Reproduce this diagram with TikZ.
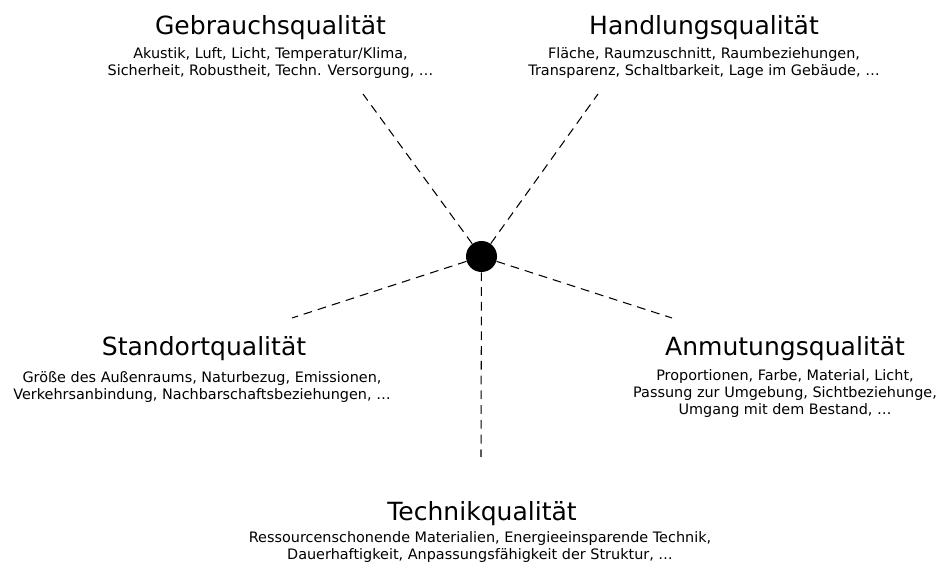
\documentclass[tikz,border=0pt]{standalone}
\usepackage{fontspec}
\setmainfont{DejaVu Sans}
\begin{document}
\begin{tikzpicture}[
  titel/.style={font=\fontsize{14.25}{17}\selectfont, inner sep=0pt, anchor=base},
  liste/.style={font=\fontsize{8.2}{9.7}\selectfont, align=center, inner sep=0pt, anchor=base},
  strahl/.style={dash pattern=on 5pt off 3.4pt, line width=0.6pt}
]
  \useasboundingbox (0,0) rectangle (18.86,11.24);
  % Mittelpunkt
  \node[circle, fill=black, minimum size=0.62cm, inner sep=0pt] (kern) at (9.63,6.11) {};
  % Enden der Strahlen
  \coordinate (gebrauchEnde) at (7.26,9.36);
  \coordinate (handlungEnde) at (11.96,9.36);
  \coordinate (standortEnde) at (5.84,4.88);
  \coordinate (anmutungEnde) at (13.44,4.88);
  \coordinate (technikEnde) at (9.62,2.10);
  \draw[strahl] (kern) -- (gebrauchEnde);
  \draw[strahl] (kern) -- (handlungEnde);
  \draw[strahl] (kern) -- (standortEnde);
  \draw[strahl] (kern) -- (anmutungEnde);
  \draw[strahl] (kern) -- (technikEnde);
  % Qualitaeten (Listen: Basislinie der letzten Zeile)
  \node[titel] (gebrauch) at (5.41,10.54) {Gebrauchsqualität};
  \node[liste] (gebrauchText) at (5.41,9.73) {Akustik, Luft, Licht, Temperatur/Klima,\\Sicherheit, Robustheit, Techn. Versorgung, …};
  \node[titel] (handlung) at (14.08,10.54) {Handlungsqualität};
  \node[liste] (handlungText) at (14.08,9.73) {Fläche, Raumzuschnitt, Raumbeziehungen,\\Transparenz, Schaltbarkeit, Lage im Gebäude, …};
  \node[titel] (standort) at (4.08,4.12) {Standortqualität};
  \node[liste] (standortText) at (4.04,3.24) {Größe des Außenraums, Naturbezug, Emissionen,\\Verkehrsanbindung, Nachbarschaftsbeziehungen, …};
  \node[titel] (anmutung) at (15.70,4.12) {Anmutungsqualität};
  \node[liste] (anmutungText) at (15.70,2.94) {Proportionen, Farbe, Material, Licht,\\Passung zur Umgebung, Sichtbeziehunge,\\Umgang mit dem Bestand, …};
  \node[titel] (technik) at (9.64,0.82) {Technikqualität};
  \node[liste] (technikText) at (9.60,0.04) {Ressourcenschonende Materialien, Energieeinsparende Technik,\\Dauerhaftigkeit, Anpassungsfähigkeit der Struktur, …};
\end{tikzpicture}
\end{document}
